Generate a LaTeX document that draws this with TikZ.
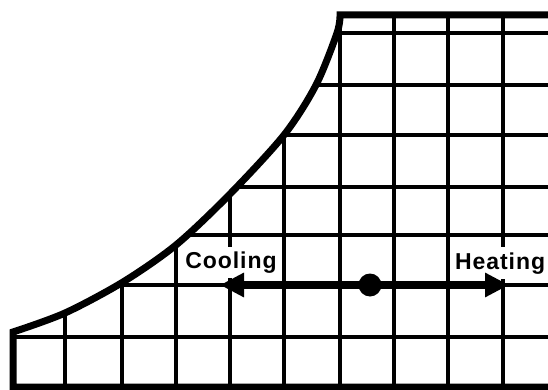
\documentclass[tikz,border=0pt]{standalone}
\usepackage{fontspec}
\newfontfamily\labelfont[LetterSpace=4]{Liberation Sans}
\usetikzlibrary{arrows.meta}
\usetikzlibrary{positioning}

\begin{document}
\begin{tikzpicture}[x=1pt, y=-1pt,
    gridline/.style={line width=3.2pt},
    border/.style={line width=7pt},
    flow/.style={line width=8pt, -{Triangle[length=24pt, width=23pt]}},
    tag/.style={fill=white, inner xsep=1pt, inner ysep=5pt, font={\labelfont\bfseries\fontsize{23}{26}\selectfont}}]

      \useasboundingbox (0, 0) rectangle (548, 390);

      % grid under the saturation curve
      \begin{scope}
        \clip plot[smooth] coordinates {(13, 332) (65, 313) (123, 282) (176, 245) (229, 195) (284, 135) (316, 85) (337, 33) (340, 15)}
          -- (548, 15) -- (548, 390) -- (13, 390) -- cycle;
        \foreach \y in {33, 85, 135, 187, 235, 285, 337} {
          \draw[gridline] (0, \y) -- (548, \y);
        }
        \foreach \x in {65, 122, 176, 230, 284, 340, 394, 448, 503} {
          \draw[gridline] (\x, 0) -- (\x, 390);
        }
      \end{scope}

      % outline
      \draw[border] (548, 387) -- (13, 387)
        -- plot[smooth] coordinates {(13, 332) (65, 313) (123, 282) (176, 245) (229, 195) (284, 135) (316, 85) (337, 33) (340, 15)}
        -- (548, 15);

      \node[tag, anchor=base] (cooling) at (231, 268.5) {Cooling};
      \node[tag, anchor=base west] (heating) at (454, 269) {Heating};

      \node[circle, fill=black, inner sep=0pt, minimum size=23pt] (state) at (370, 285) {};
      \coordinate (cool) at (220, 285);
      \coordinate (heat) at (509, 285);

      \draw[flow] (state.center) -- (cool);
      \draw[flow] (state.center) -- (heat);
    \end{tikzpicture}
\end{document}
